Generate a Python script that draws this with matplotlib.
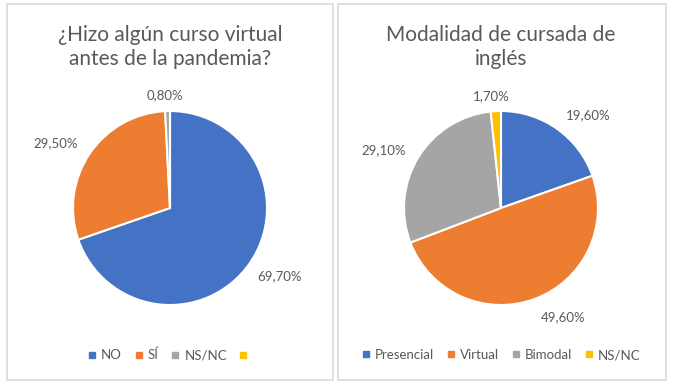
import matplotlib.pyplot as plt
from matplotlib.patches import Rectangle
from matplotlib.lines import Line2D

plt.rcParams["font.family"] = ["Lato", "DejaVu Sans"]

# data
left_title = "¿Hizo algún curso virtual\nantes de la pandemia?"
left_cats = ["NO", "SÍ", "NS/NC", ""]
left_vals = [69.7, 29.5, 0.8, 0.0]

right_title = "Modalidad de cursada de\ninglés"
right_cats = ["Presencial", "Virtual", "Bimodal", "NS/NC"]
right_vals = [19.6, 49.6, 29.1, 1.7]

colors = ["#4472C4", "#ED7D31", "#A5A5A5", "#FFC000"]
text_col = "#595959"

# label positions (in pie radius units)
left_lab_pos = [(1.13, -0.70), (-1.18, 0.67), (-0.05, 1.16), None]
right_lab_pos = [(0.90, 0.96), (0.64, -1.13), (-1.21, 0.60), (-0.10, 1.15)]

W, H = 676, 387
fig = plt.figure(figsize=(W / 100, H / 100), dpi=100)


def panel(x0, x1, y0, y1):
    fig.patches.append(Rectangle((x0 / W, 1 - y1 / H), (x1 - x0) / W, (y1 - y0) / H,
                                 transform=fig.transFigure, facecolor="white",
                                 edgecolor="#D9D9D9", linewidth=1.2, zorder=-10))


def pie_chart(cx, cy, r, vals, cats, lab_pos, title, title_y, leg_y):
    lim = 1.3
    side = 2 * r * lim
    ax = fig.add_axes([(cx - side / 2) / W, 1 - (cy + side / 2) / H, side / W, side / H])
    ax.pie(vals, colors=colors, startangle=90, counterclock=False,
           wedgeprops=dict(edgecolor="white", linewidth=1.5))
    ax.set_xlim(-lim, lim)
    ax.set_ylim(-lim, lim)
    ax.set_aspect("equal")
    ax.axis("off")
    for v, p in zip(vals, lab_pos):
        if p is None:
            continue
        ax.text(p[0], p[1], f"{v:.2f}".replace(".", ",") + "%", ha="center", va="center",
                fontsize=9.5, color=text_col, clip_on=False)
    fig.text(cx / W, 1 - title_y / H, title, ha="center", va="center",
             fontsize=15, color=text_col, linespacing=1.25)
    handles = [Line2D([], [], marker="s", ls="", color=c, markersize=4) for c in colors]
    fig.legend(handles, cats, loc="center", bbox_to_anchor=(cx / W, 1 - leg_y / H),
               ncol=4, frameon=False, fontsize=9.5, handlelength=0.7,
               handletextpad=0.35, columnspacing=0.9, labelcolor=text_col)


panel(7, 333, 4, 380)
panel(338, 666, 4, 380)

pie_chart(170, 208, 97, left_vals, left_cats, left_lab_pos, left_title, 47, 355)
pie_chart(501, 208, 97, right_vals, right_cats, right_lab_pos, right_title, 47, 355)

fig.savefig("out.png", dpi=100, facecolor="white")
